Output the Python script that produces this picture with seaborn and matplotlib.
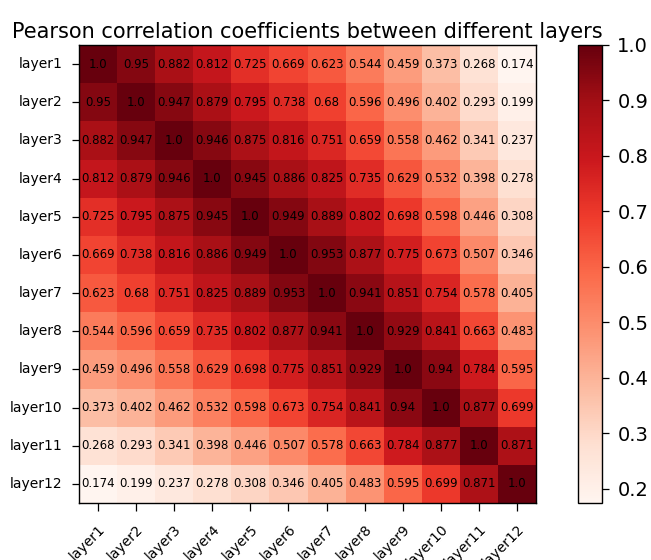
import numpy as np
import pandas as pd
import matplotlib
matplotlib.use("Agg")
import matplotlib.pyplot as plt
import seaborn as sns

layers = [f"layer{i}" for i in range(1, 13)]

# upper-triangle rows of the correlation matrix (row i starts at the diagonal)
row1 = [1.0, 0.95, 0.882, 0.812, 0.725, 0.669, 0.623, 0.544, 0.459, 0.373, 0.268, 0.174]
row2 = [1.0, 0.947, 0.879, 0.795, 0.738, 0.68, 0.596, 0.496, 0.402, 0.293, 0.199]
row3 = [1.0, 0.946, 0.875, 0.816, 0.751, 0.659, 0.558, 0.462, 0.341, 0.237]
row4 = [1.0, 0.945, 0.886, 0.825, 0.735, 0.629, 0.532, 0.398, 0.278]
row5 = [1.0, 0.949, 0.889, 0.802, 0.698, 0.598, 0.446, 0.308]
row6 = [1.0, 0.953, 0.877, 0.775, 0.673, 0.507, 0.346]
row7 = [1.0, 0.941, 0.851, 0.754, 0.578, 0.405]
row8 = [1.0, 0.929, 0.841, 0.663, 0.483]
row9 = [1.0, 0.94, 0.784, 0.595]
row10 = [1.0, 0.877, 0.699]
row11 = [1.0, 0.871]
row12 = [1.0]

rows = [row1, row2, row3, row4, row5, row6, row7, row8, row9, row10, row11, row12]
n = len(layers)
corr = np.zeros((n, n))
for i, r in enumerate(rows):
    for k, v in enumerate(r):
        corr[i, i + k] = v
        corr[i + k, i] = v

df = pd.DataFrame(corr, index=layers, columns=layers)
labels = np.array([[f"{v:g}" if v != 1.0 else "1.0" for v in row] for row in corr])

fig = plt.figure(figsize=(6.51, 5.60), dpi=100)
ax = fig.add_axes([79 / 651, (560 - 503) / 560, 457 / 651, 458 / 560])
cax = fig.add_axes([578 / 651, (560 - 503) / 560, 24 / 651, 458 / 560])

sns.heatmap(df, ax=ax, cbar_ax=cax, cmap="Reds", vmin=corr.min(), vmax=1.0,
            annot=labels, fmt="", annot_kws={"color": "black", "fontsize": 8.5},
            linewidths=0, square=False)

for s in ax.spines.values():
    s.set_visible(True)
    s.set_color("black")
    s.set_linewidth(1.0)

ax.tick_params(axis="x", labelsize=10, length=5.5, width=0.9, pad=8)
ax.tick_params(axis="y", labelsize=10, length=5, width=0.9, pad=7)
plt.setp(ax.get_yticklabels(), rotation=0)
plt.setp(ax.get_xticklabels(), rotation=45, ha="right", rotation_mode="anchor")
ax.set_xlabel("")
ax.set_ylabel("")
ax.set_title("Pearson correlation coefficients between different layers",
             fontsize=15, pad=5)

cb = ax.collections[0].colorbar
cb.outline.set_visible(True)
cb.outline.set_linewidth(1.0)
cb.outline.set_edgecolor("black")
cb.set_ticks([0.2, 0.3, 0.4, 0.5, 0.6, 0.7, 0.8, 0.9, 1.0])
cb.ax.tick_params(labelsize=14, length=5, width=0.9, pad=6)

fig.savefig("out.png", dpi=100)
